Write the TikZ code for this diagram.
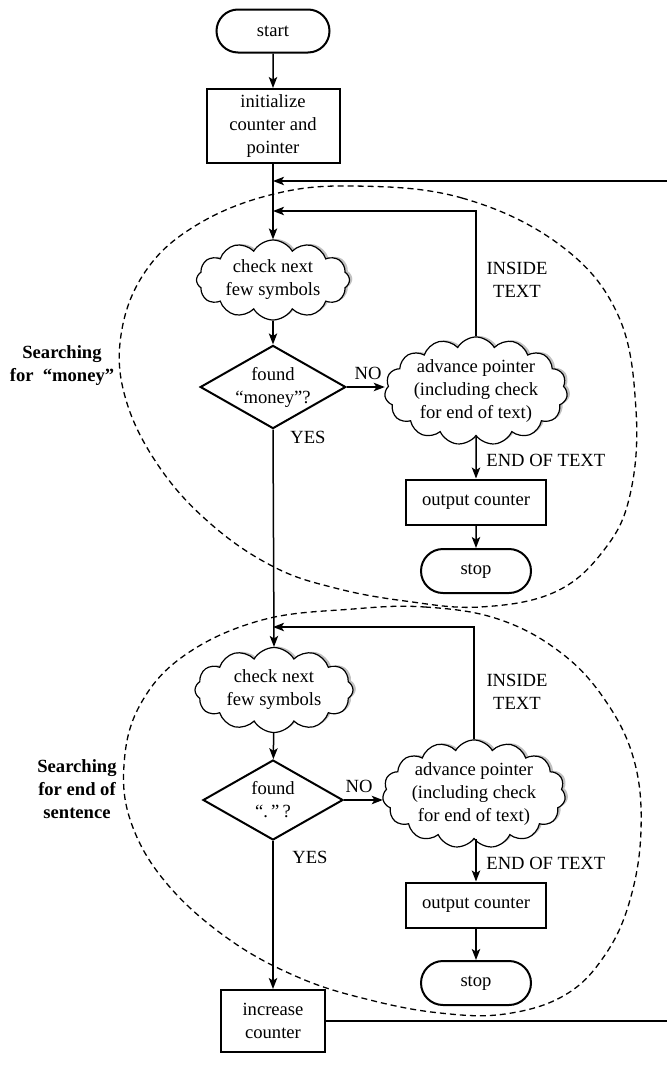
\documentclass[tikz,border=0pt]{standalone}
\usepackage{fontspec}
\setmainfont{Liberation Serif}
\usetikzlibrary{arrows.meta,shapes.misc,shapes.geometric,shapes.symbols,shadows,calc}

\begin{document}
\begin{tikzpicture}[x=0.5pt,y=-0.5pt,
  every node/.style={font=\fontsize{9.3}{11.5}\selectfont},
  termnode/.style={rounded rectangle, draw, line width=1pt, minimum width=55pt, minimum height=22pt, inner sep=0pt},
  procbox/.style={rectangle, draw, line width=1pt, align=center, inner sep=0pt},
  cloudnode/.style={cloud, draw, fill=white, line width=0.6pt, cloud puffs=12, cloud puff arc=120,
    cloud ignores aspect, align=center, inner sep=0pt,
    drop shadow={shadow xshift=1.4pt, shadow yshift=0.5pt, fill=black!35, opacity=0.7}},
  decision/.style={diamond, draw, line width=1pt, aspect=1.75, inner sep=0pt, align=center,
    minimum width=70pt, minimum height=40pt},
  conn/.style={line width=0.75pt, -{Stealth[length=5.5pt,width=4.2pt,inset=1.3pt]}},
  plainline/.style={line width=0.75pt},
  region/.style={dash pattern=on 3pt off 2pt, line width=0.65pt},
  lbl/.style={inner sep=0pt, align=center},
  sidelbl/.style={inner sep=0pt, align=center, font=\fontsize{9.3}{11.5}\selectfont\bfseries}]

\useasboundingbox (0,0) rectangle (667,1066);

% ---------- dashed regions ----------
\draw[region] plot[smooth cycle, tension=0.65] coordinates {
  (353,186) (462,198) (560,245) (618,315) (636,410) (630,495) (604,550)
  (555,592) (480,607) (405,601) (335,588) (274,567) (212,525) (160,468)
  (126,400) (121,335) (145,272) (195,226) (270,195)};
\draw[region] plot[smooth cycle, tension=0.65] coordinates {
  (353,609) (425,607) (498,619) (560,652) (605,700) (634,760) (641,830)
  (630,900) (605,955) (565,995) (505,1014) (440,1013) (370,1000)
  (300,978) (230,940) (168,885) (132,825) (124,765) (140,705) (185,655) (262,620)};

% ---------- nodes ----------
\node[termnode, minimum width=56.5pt, minimum height=21.5pt] (start) at (273,31) {start};
\node[procbox, minimum width=66.5pt, minimum height=37pt] (init) at (273,126)
  {initialize\\counter and\\pointer};

\node[cloudnode, minimum width=76.5pt, minimum height=40pt] (chk1) at (273,280)
  {check next\\few symbols};
\node[decision] (dec1) at (273,387) {found\\“money”?};
\node[cloudnode, cloud puffs=15, minimum width=82.5pt, minimum height=53.5pt] (adv1) at (476,391)
  {advance pointer\\(including check\\for end of text)};
\node[procbox, minimum width=70pt, minimum height=22.5pt] (out1) at (476,502) {output counter};
\node[termnode] (stop1) at (476,571) {stop};

\node[cloudnode, minimum width=79pt, minimum height=42.5pt] (chk2) at (274,690)
  {check next\\few symbols};
\node[decision] (dec2) at (273,800) {found\\“.\,”\,?};
\node[cloudnode, cloud puffs=15, minimum width=88.5pt, minimum height=49pt] (adv2) at (474,794)
  {advance pointer\\(including check\\for end of text)};
\node[procbox, minimum width=70pt, minimum height=22.5pt] (out2) at (476,905) {output counter};
\node[termnode] (stop2) at (476,983) {stop};

\node[procbox, minimum width=52pt, minimum height=31pt] (inc) at (273,1021) {increase\\counter};

% ---------- side labels ----------
\node[sidelbl] (lab1) at (62,366) {Searching\\for ~“money”};
\node[sidelbl] (lab2) at (77,789) {Searching\\for end of\\sentence};

% ---------- connector ends at the right margin ----------
\coordinate (backtop) at (667,181);
\coordinate (loop1) at (0,211);
\coordinate (loop2) at (0,627);

% ---------- connectors ----------
\draw[conn] (start) -- (init);
\draw[conn] (init) -- (chk1);
\draw[conn] (backtop) -- (init.south |- backtop);
\draw[conn] (adv1.north) |- (init.south |- loop1);
\draw[conn] (chk1) -- (dec1);
\draw[conn] (dec1.east) -- (adv1.west |- dec1.east);
\draw[conn] (adv1) -- (out1);
\draw[conn] (out1) -- (stop1);

\draw[conn] (dec1.south) -- (chk2.north);
\draw[conn] (adv2.north) |- (dec1.south |- loop2);
\draw[conn] (chk2) -- (dec2);
\draw[conn] (dec2.east) -- (adv2.west |- dec2.east);
\draw[conn] (adv2.south -| out2) -- (out2);
\draw[conn] (out2) -- (stop2);
\draw[conn] (dec2.south) -- (inc.north);
\draw[plainline] (inc.east) -- (inc.east -| backtop);

% ---------- connector labels ----------
\node[lbl] (no1) at (368,373) {NO};
\node[lbl] (no2) at (359,786) {NO};
\node[lbl] (yes1) at (308,437) {YES};
\node[lbl] (yes2) at (310,857) {YES};
\node[lbl] (in1) at (517,280) {INSIDE\\TEXT};
\node[lbl] (in2) at (517,692) {INSIDE\\TEXT};
\node[lbl, anchor=west] (end1) at (486,460) {END OF TEXT};
\node[lbl, anchor=west] (end2) at (486,863) {END OF TEXT};
\end{tikzpicture}
\end{document}
